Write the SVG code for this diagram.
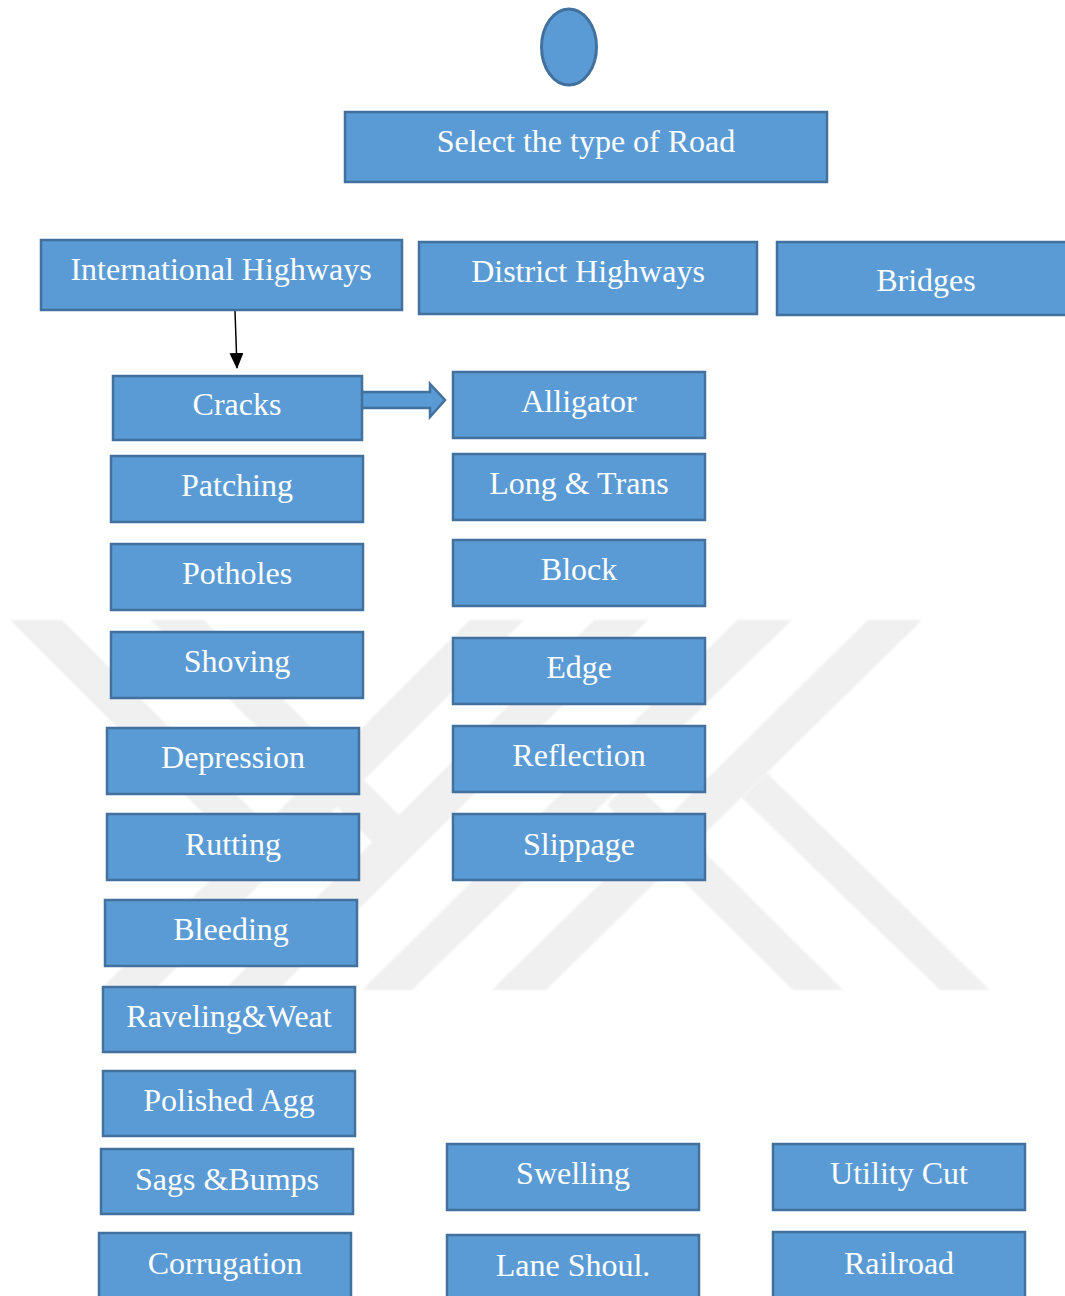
<svg xmlns="http://www.w3.org/2000/svg" width="1065" height="1296" viewBox="0 0 1065 1296">
  <defs>
    <style>
      .box { fill: #5b9bd5; stroke: #41719c; stroke-width: 2.5; }
      .lbl { font-family: "Liberation Serif", "Times New Roman", serif; font-size: 32px; fill: #ffffff; text-anchor: middle; }
      .wm { fill: #f0f0f0; }
      .link { stroke: #000000; stroke-width: 1.5; fill: none; }
    </style>
    <marker id="arrowhead" viewBox="0 0 16 14" refX="15" refY="7" markerWidth="16" markerHeight="14" markerUnits="userSpaceOnUse" orient="auto">
      <path d="M0,0 L16,7 L0,14 Z" fill="#000000"/>
    </marker>
    <filter id="soft" x="-5%" y="-5%" width="110%" height="110%">
      <feGaussianBlur stdDeviation="1"/>
    </filter>
  </defs>

  <rect x="0" y="0" width="1065" height="1296" fill="#ffffff"/>

  <!-- background logo bands -->
  <g id="backdrop" filter="url(#soft)">
    <polygon class="wm" points="470,620 524,620 154,990 100,990"/>
    <polygon class="wm" points="10,620 62,620 266,824 240,850"/>
    <polygon class="wm" points="594,620 648,620 278,990 224,990"/>
    <polygon class="wm" points="150,620 204,620 399,815 372,842"/>
    <polygon class="wm" points="737,620 792,620 412,990 362,990"/>
    <polygon class="wm" points="632,780 843,990 793,990 607,805"/>
    <polygon class="wm" points="868,620 922,620 546,990 492,990"/>
    <polygon class="wm" points="767,773 990,990 940,990 742,798"/>
  </g>

  <!-- connectors -->
  <g id="connectors">
    <line class="link" x1="235" y1="311" x2="237" y2="368" marker-end="url(#arrowhead)"/>
    <polygon class="box" stroke-width="2" points="359,392 430,392 430,384 445,400 430,417 430,408 359,408"/>
  </g>

  <g id="start">
    <ellipse cx="569" cy="47" rx="27.5" ry="38" fill="#5b9bd5" stroke="#41719c" stroke-width="3"/>
  </g>

  <g id="select-road">
    <rect class="box" x="345" y="112" width="482" height="70"/>
    <text class="lbl" x="586" y="152">Select the type of Road</text>
  </g>

  <g id="international-highways">
    <rect class="box" x="41" y="240" width="361" height="70"/>
    <text class="lbl" x="221" y="280">International Highways</text>
  </g>
  <g id="district-highways">
    <rect class="box" x="419" y="242" width="338" height="72"/>
    <text class="lbl" x="588" y="282">District Highways</text>
  </g>
  <g id="bridges">
    <rect class="box" x="777" y="242" width="300" height="73"/>
    <text class="lbl" x="926" y="291">Bridges</text>
  </g>

  <!-- left column -->
  <g id="cracks">
    <rect class="box" x="113" y="376" width="249" height="64"/>
    <text class="lbl" x="237" y="415">Cracks</text>
  </g>
  <g id="patching">
    <rect class="box" x="111" y="456" width="252" height="66"/>
    <text class="lbl" x="237" y="496">Patching</text>
  </g>
  <g id="potholes">
    <rect class="box" x="111" y="544" width="252" height="66"/>
    <text class="lbl" x="237" y="584">Potholes</text>
  </g>
  <g id="shoving">
    <rect class="box" x="111" y="632" width="252" height="66"/>
    <text class="lbl" x="237" y="672">Shoving</text>
  </g>
  <g id="depression">
    <rect class="box" x="107" y="728" width="252" height="66"/>
    <text class="lbl" x="233" y="768">Depression</text>
  </g>
  <g id="rutting">
    <rect class="box" x="107" y="814" width="252" height="66"/>
    <text class="lbl" x="233" y="855">Rutting</text>
  </g>
  <g id="bleeding">
    <rect class="box" x="105" y="900" width="252" height="66"/>
    <text class="lbl" x="231" y="940">Bleeding</text>
  </g>
  <g id="raveling">
    <rect class="box" x="103" y="987" width="252" height="65"/>
    <text class="lbl" x="229" y="1027">Raveling&amp;Weat</text>
  </g>
  <g id="polished-agg">
    <rect class="box" x="103" y="1071" width="252" height="65"/>
    <text class="lbl" x="229" y="1111">Polished Agg</text>
  </g>
  <g id="sags-bumps">
    <rect class="box" x="101" y="1149" width="252" height="65"/>
    <text class="lbl" x="227" y="1190">Sags &amp;Bumps</text>
  </g>
  <g id="corrugation">
    <rect class="box" x="99" y="1233" width="252" height="70"/>
    <text class="lbl" x="225" y="1274">Corrugation</text>
  </g>

  <!-- crack types -->
  <g id="alligator">
    <rect class="box" x="453" y="372" width="252" height="66"/>
    <text class="lbl" x="579" y="412">Alligator</text>
  </g>
  <g id="long-trans">
    <rect class="box" x="453" y="454" width="252" height="66"/>
    <text class="lbl" x="579" y="494">Long &amp; Trans</text>
  </g>
  <g id="block">
    <rect class="box" x="453" y="540" width="252" height="66"/>
    <text class="lbl" x="579" y="580">Block</text>
  </g>
  <g id="edge">
    <rect class="box" x="453" y="638" width="252" height="66"/>
    <text class="lbl" x="579" y="678">Edge</text>
  </g>
  <g id="reflection">
    <rect class="box" x="453" y="726" width="252" height="66"/>
    <text class="lbl" x="579" y="766">Reflection</text>
  </g>
  <g id="slippage">
    <rect class="box" x="453" y="814" width="252" height="66"/>
    <text class="lbl" x="579" y="855">Slippage</text>
  </g>

  <!-- bottom rows -->
  <g id="swelling">
    <rect class="box" x="447" y="1144" width="252" height="66"/>
    <text class="lbl" x="573" y="1184">Swelling</text>
  </g>
  <g id="lane-shoulder">
    <rect class="box" x="447" y="1235" width="252" height="70"/>
    <text class="lbl" x="573" y="1276">Lane Shoul.</text>
  </g>
  <g id="utility-cut">
    <rect class="box" x="773" y="1144" width="252" height="66"/>
    <text class="lbl" x="899" y="1184">Utility Cut</text>
  </g>
  <g id="railroad">
    <rect class="box" x="773" y="1232" width="252" height="70"/>
    <text class="lbl" x="899" y="1274">Railroad</text>
  </g>
</svg>
